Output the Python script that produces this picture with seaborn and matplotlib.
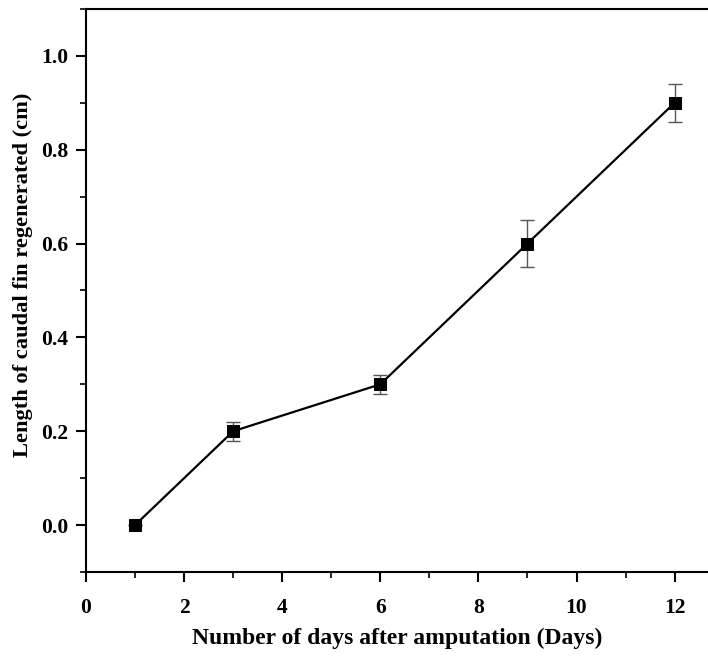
import matplotlib
matplotlib.use("Agg")
import matplotlib.pyplot as plt
import seaborn as sns
import pandas as pd
from matplotlib.ticker import MultipleLocator

days = [1, 3, 6, 9, 12]
length_cm = [0.0, 0.2, 0.3, 0.6, 0.9]
err_cm = [0.0, 0.02, 0.02, 0.05, 0.04]

df = pd.DataFrame({"days": days, "length": length_cm, "err": err_cm})

sns.set_theme(style="ticks")
plt.rcParams['font.family'] = ['Liberation Serif', 'DejaVu Serif']
plt.rcParams['font.weight'] = 'bold'
plt.rcParams['text.color'] = 'black'
plt.rcParams['axes.labelcolor'] = 'black'
plt.rcParams['xtick.color'] = 'black'
plt.rcParams['ytick.color'] = 'black'

fig = plt.figure(figsize=(7.08, 6.62), dpi=100)
ax = fig.add_axes([0.1215, 0.136, 0.8785, 0.8505])

ax.errorbar(df["days"], df["length"], yerr=df["err"], fmt='none',
            ecolor='#555555', elinewidth=1.0, capsize=5, capthick=1.0, zorder=2)
sns.lineplot(data=df, x="days", y="length", ax=ax, color='black', linewidth=1.6,
             marker='s', markersize=9, markeredgecolor='black', markerfacecolor='black',
             zorder=3)

ax.set_xlim(0, 12.68)
ax.set_ylim(-0.1, 1.1)
ax.xaxis.set_major_locator(MultipleLocator(2))
ax.xaxis.set_minor_locator(MultipleLocator(1))
ax.yaxis.set_minor_locator(MultipleLocator(0.1))
ax.set_yticks([0.0, 0.2, 0.4, 0.6, 0.8, 1.0])
ax.set_yticklabels(["0.0", "0.2", "0.4", "0.6", "0.8", "1.0"])

for s in ["left", "bottom", "top"]:
    ax.spines[s].set_linewidth(1.5)
    ax.spines[s].set_color('black')
ax.spines["right"].set_visible(False)

ax.tick_params(axis='both', which='major', direction='out', length=7, width=1.5,
               labelsize=15.5, colors='black', labelcolor='black')
ax.tick_params(axis='x', which='major', pad=12)
ax.tick_params(axis='y', which='major', pad=6)
ax.tick_params(axis='both', which='minor', direction='out', length=4, width=1.2, colors='black')
ax.tick_params(axis='x', which='both', top=False)
for lab in ax.get_xticklabels() + ax.get_yticklabels():
    lab.set_fontweight('bold')

ax.set_xlabel("Number of days after amputation (Days)", fontsize=17, fontweight='bold',
              labelpad=7, color='black')
ax.set_ylabel("Length of caudal fin regenerated (cm)", fontsize=16.2, fontweight='bold',
              color='black')
ax.yaxis.set_label_coords(-0.085, 0.527)

fig.savefig("out.png", dpi=100)
